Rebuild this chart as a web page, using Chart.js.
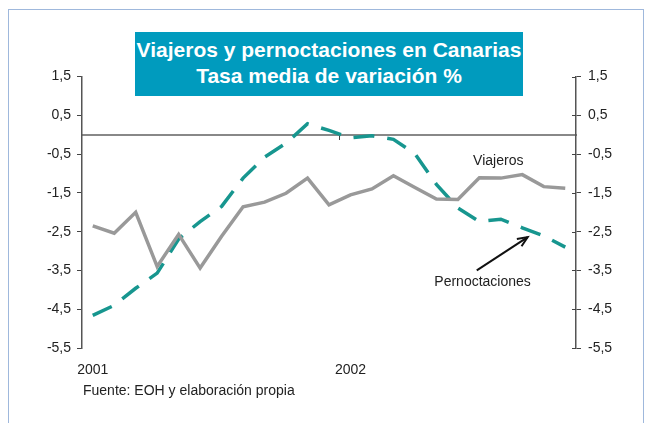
<!DOCTYPE html>
<html>
<head>
<meta charset="utf-8">
<script src="https://cdn.jsdelivr.net/npm/chart.js@4"></script>
<style>
  body { margin: 0; background: #fff; }
  #wrap { position: relative; width: 648px; height: 423px; overflow: hidden; background: #fff; }
  #marco { position: absolute; left: 8px; top: 9px; width: 636px; height: 440px; border: 1.5px solid #9fb8dc; box-sizing: border-box; }
  #chart { position: absolute; left: 0; top: 0; }
  #titulo { position: absolute; left: 135px; top: 32px; width: 388px; height: 64px; box-sizing: border-box; padding-top: 5px;
    background: #009bbe; color: #fff; font: bold 21px "Liberation Sans", Arial, sans-serif; line-height: 25.7px; text-align: center; }
  #fuente { position: absolute; left: 83px; top: 382px; font: 14px "Liberation Sans", Arial, sans-serif; line-height: 16px; color: #222; }
</style>
</head>
<body>
<div id="wrap">
  <div id="marco"></div>
  <canvas id="chart" width="648" height="423"></canvas>
  <div id="titulo">Viajeros y pernoctaciones en Canarias<br>Tasa media de variación %</div>
  <div id="fuente">Fuente: EOH y elaboración propia</div>
</div>
<script>
// meses ene-2001 .. nov-2002
const meses = ["ene 01","feb 01","mar 01","abr 01","may 01","jun 01","jul 01","ago 01","sep 01","oct 01","nov 01","dic 01",
               "ene 02","feb 02","mar 02","abr 02","may 02","jun 02","jul 02","ago 02","sep 02","oct 02","nov 02"];
const anios = ["2001","","","","","","","","","","","","2002","","","","","","","","","",""];

const viajeros = [-2.35, -2.54, -2.00, -3.40, -2.57, -3.44, -2.62, -1.86, -1.74, -1.51, -1.12, -1.81,
                  -1.55, -1.40, -1.06, -1.36, -1.66, -1.67, -1.11, -1.12, -1.03, -1.34, -1.38];
const pernoctaciones = [-4.66, -4.40, -3.96, -3.57, -2.69, -2.24, -1.85, -1.12, -0.58, -0.22, 0.28, 0.11,
                        -0.08, -0.03, -0.12, -0.49, -1.28, -1.89, -2.24, -2.18, -2.40, -2.61, -2.90];

const yMin = -5.5, yMax = 1.5;

Chart.defaults.font.family = '"Liberation Sans", Arial, sans-serif';
Chart.defaults.font.size = 14;
Chart.defaults.color = '#222';

const coma = v => v.toFixed(1).replace('.', ',');

// textos y flecha dentro del grafico, y cruces del eje derecho
const etiquetas = {
  id: 'etiquetas',
  afterDatasetsDraw(chart) {
    const { ctx, scales: { x, y, y2 } } = chart;
    ctx.save();
    ctx.strokeStyle = '#444';
    ctx.lineWidth = 1;
    y2.ticks.forEach(t => {
      const py = Math.round(y2.getPixelForValue(t.value)) + 0.5;
      ctx.beginPath();
      ctx.moveTo(y2.left - 4, py);
      ctx.lineTo(y2.left, py);
      ctx.stroke();
    });

    ctx.fillStyle = '#222';
    ctx.font = '14px "Liberation Sans", Arial, sans-serif';
    ctx.textAlign = 'center';
    ctx.textBaseline = 'middle';
    ctx.fillText('Viajeros', x.getPixelForValue(18.88), y.getPixelForValue(-0.68));
    ctx.fillText('Pernoctaciones', x.getPixelForValue(18.15), y.getPixelForValue(-3.79));

    const x0 = x.getPixelForValue(17.88), y0 = y.getPixelForValue(-3.5);
    const x1 = x.getPixelForValue(20.25), y1 = y.getPixelForValue(-2.64);
    const ang = Math.atan2(y1 - y0, x1 - x0);
    ctx.strokeStyle = '#111';
    ctx.lineWidth = 2;
    ctx.beginPath();
    ctx.moveTo(x0, y0);
    ctx.lineTo(x1, y1);
    ctx.stroke();
    ctx.beginPath();
    ctx.moveTo(x1 - 11 * Math.cos(ang - 0.4), y1 - 11 * Math.sin(ang - 0.4));
    ctx.lineTo(x1, y1);
    ctx.lineTo(x1 - 11 * Math.cos(ang + 0.4), y1 - 11 * Math.sin(ang + 0.4));
    ctx.stroke();
    ctx.restore();
  }
};

const ctx = document.getElementById("chart").getContext("2d");

new Chart(ctx, {
  type: 'line',
  data: {
    labels: meses,
    datasets: [{
      label: 'Viajeros',
      data: viajeros,
      borderColor: '#999999',
      borderWidth: 3.5,
      pointRadius: 0,
      tension: 0,
      yAxisID: 'y'
    }, {
      label: 'Pernoctaciones',
      data: pernoctaciones,
      borderColor: '#17968f',
      borderWidth: 3.5,
      borderDash: [21, 13],
      borderCapStyle: 'butt',
      pointRadius: 0,
      tension: 0,
      yAxisID: 'y'
    }]
  },
  options: {
    responsive: false,
    animation: false,
    layout: { padding: { left: 42, right: 32, top: 76.5, bottom: 40 } },
    plugins: {
      legend: { display: false },
      tooltip: { enabled: false }
    },
    scales: {
      x: {
        type: 'category',
        offset: true,
        position: { y: 0 },
        border: { display: true, color: '#888', width: 2 },
        grid: {
          offset: true,
          drawOnChartArea: false,
          tickLength: 4,
          color: c => c.index === 12 ? '#444' : 'rgba(0,0,0,0)'
        },
        ticks: { display: false, autoSkip: false }
      },
      x2: {
        type: 'category',
        labels: anios,
        offset: true,
        position: 'bottom',
        border: { display: false },
        grid: { display: false, drawTicks: false },
        ticks: { autoSkip: false, maxRotation: 0, padding: 14, color: '#222' },
        afterFit: s => { s.height = 35; }
      },
      y: {
        position: 'left',
        min: yMin,
        max: yMax,
        border: { color: '#555', width: 1.5 },
        grid: { drawOnChartArea: false, tickLength: 5, color: '#444' },
        ticks: { stepSize: 1, padding: 6, callback: v => coma(v) },
        afterFit: s => { s.width = 40; }
      },
      y2: {
        position: 'right',
        min: yMin,
        max: yMax,
        border: { color: '#555', width: 1.5 },
        grid: { drawOnChartArea: false, tickLength: 5, color: '#444' },
        ticks: { stepSize: 1, padding: 7, callback: v => coma(v) },
        afterFit: s => { s.width = 40; }
      }
    }
  },
  plugins: [etiquetas]
});
</script>
</body>
</html>
